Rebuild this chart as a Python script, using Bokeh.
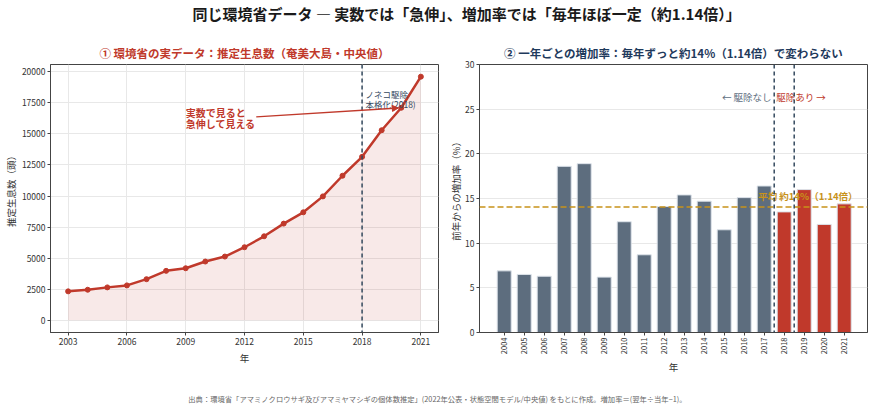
from math import pi
from bokeh.plotting import figure
from bokeh.layouts import column, row
from bokeh.models import ColumnDataSource, Span, Arrow, NormalHead, FixedTicker, Range1d
from bokeh.embed import file_html
from bokeh.resources import INLINE
from bokeh.core.properties import value

FONT = "Noto Sans CJK JP"
RED = "#c0392b"
NAVY = "#34495e"
GRAYBAR = "#5d6d7e"
GOLD = "#c8921a"
TITLE_NAVY = "#1f3a5c"

# ---------------- data ----------------
years = list(range(2003, 2022))
population = [2330, 2460, 2650, 2810, 3310, 3980, 4190, 4730, 5130, 5880,
              6760, 7780, 8690, 9970, 11630, 13150, 15290, 17100, 19600]
rate_years = list(range(2004, 2022))
growth_rate = [6.9, 6.5, 6.3, 18.6, 18.9, 6.2, 12.4, 8.7, 14.1, 15.4,
               14.7, 11.5, 15.1, 16.4, 13.5, 16.0, 12.1, 14.4]
average_rate = 14.05
cull_start_year = 2018
left_xticks = [2003, 2006, 2009, 2012, 2015, 2018, 2021]
left_yticks = [0, 2500, 5000, 7500, 10000, 12500, 15000, 17500, 20000]
right_yticks = [0, 5, 10, 15, 20, 25, 30]

main_title = "同じ環境省データ ― 実数では「急伸」、増加率では「毎年ほぼ一定（約1.14倍）」"
left_title = "① 環境省の実データ：推定生息数（奄美大島・中央値）"
right_title = "② 一年ごとの増加率：毎年ずっと約14%（1.14倍）で変わらない"
left_ylabel = "推定生息数（頭）"
right_ylabel = "前年からの増加率（%）"
footer = "出典：環境省「アマミノクロウサギ及びアマミヤマシギの個体数推定」(2022年公表・状態空間モデル/中央値) をもとに作成。増加率＝(翌年÷当年−1)。"

ROW_H = 349
BORDER_TOP = 28
BORDER_BOTTOM = 53
FRAME_H = ROW_H - BORDER_TOP - BORDER_BOTTOM


def style_axes(p):
    for ax in p.axis:
        ax.axis_line_color = "#444444"
        ax.major_tick_line_color = "#444444"
        ax.major_tick_out = 3
        ax.major_tick_in = 0
        ax.minor_tick_line_color = None
        ax.major_label_text_font = FONT
        ax.major_label_text_font_size = "8.5px"
        ax.major_label_text_color = "#333333"
        ax.major_label_standoff = 2
        ax.axis_label_text_font = FONT
        ax.axis_label_text_font_size = "9.5px"
        ax.axis_label_text_font_style = "normal"
        ax.axis_label_text_color = "#333333"
        ax.axis_label_standoff = 3
    p.outline_line_color = "#444444"
    p.outline_line_width = 1
    p.grid.grid_line_color = "#e8e8e8"
    p.title.align = "center"
    p.title.text_font = FONT
    p.title.text_font_size = "11.5px"
    p.title.text_font_style = "bold"
    p.title.standoff = 8


def label_fig(width, text, x):
    f = figure(width=width, height=ROW_H, x_range=Range1d(0, width),
               y_range=Range1d(0, ROW_H), output_backend="svg",
               toolbar_location=None, min_border=0)
    f.axis.visible = False
    f.grid.visible = False
    f.outline_line_color = None
    f.text(x=[x], y=[BORDER_BOTTOM + FRAME_H / 2], text=[text], angle=pi / 2,
           text_font=value(FONT), text_font_size="9.5px", text_color="#333333",
           text_align="center", text_baseline="middle")
    return f


# ---------------- left: population ----------------
p1 = figure(width=426, height=ROW_H, x_range=Range1d(2002.1, 2021.9),
            y_range=Range1d(-980, 20580), output_backend="svg",
            toolbar_location=None, title=left_title,
            min_border_left=32, min_border_right=6, min_border_top=BORDER_TOP,
            min_border_bottom=BORDER_BOTTOM, x_axis_label="年")
style_axes(p1)
p1.title.text_color = RED
p1.xaxis.ticker = FixedTicker(ticks=left_xticks)
p1.yaxis.ticker = FixedTicker(ticks=left_yticks)

p1.varea(x=years, y1=[0] * len(years), y2=population, fill_color=RED, fill_alpha=0.11)
p1.line(years, population, line_color=RED, line_width=2.5)
p1.scatter(years, population, size=5, color=RED)
p1.add_layout(Span(location=cull_start_year, dimension="height", line_color=NAVY,
                   line_dash="4 3", line_width=1.5))

p1.text(x=[2009.0, 2009.0], y=[16700, 15830], text=["実数で見ると", "急伸して見える"],
        text_font=value(FONT), text_font_size="10px", text_font_style="bold",
        text_color=RED, text_baseline="middle", text_align="left")
p1.add_layout(Arrow(end=NormalHead(size=6, fill_color=RED, line_color=RED),
                    x_start=2012.6, y_start=16360, x_end=2019.85, y_end=17080,
                    line_color=RED, line_width=1.3))
p1.text(x=[cull_start_year + 0.18, cull_start_year + 0.18], y=[18180, 17380],
        text=["ノネコ駆除", "本格化(2018)"],
        text_font=value(FONT), text_font_size="8.5px",
        text_color=NAVY, text_baseline="middle", text_align="left")

# ---------------- right: growth rate ----------------
bar_colors = [GRAYBAR if y < cull_start_year else RED for y in rate_years]
src = ColumnDataSource(dict(x=rate_years, top=growth_rate, color=bar_colors))

p2 = figure(width=413, height=ROW_H, x_range=Range1d(2002.765, 2022.165),
            y_range=Range1d(0, 30), output_backend="svg",
            toolbar_location=None, title=right_title,
            min_border_left=17, min_border_right=8, min_border_top=BORDER_TOP,
            min_border_bottom=BORDER_BOTTOM, x_axis_label="年")
style_axes(p2)
p2.title.text_color = TITLE_NAVY
p2.xgrid.visible = False
p2.xaxis.ticker = FixedTicker(ticks=rate_years)
p2.yaxis.ticker = FixedTicker(ticks=right_yticks)
p2.xaxis.major_label_orientation = pi / 2
p2.xaxis.major_label_text_font_size = "7.5px"

p2.vbar(x="x", top="top", width=0.7, source=src, fill_color="color",
        line_color="#dde3ea", line_width=1)
p2.add_layout(Span(location=average_rate, dimension="width", line_color=GOLD,
                   line_dash="6 3", line_width=1.5))
for loc in (cull_start_year - 0.5, cull_start_year + 0.5):
    p2.add_layout(Span(location=loc, dimension="height", line_color=NAVY,
                       line_dash="4 3", line_width=1.5))

p2.text(x=[cull_start_year - 0.63], y=[26.4], text=["← 駆除なし"],
        text_font=value(FONT), text_font_size="9.5px", text_color=GRAYBAR,
        text_baseline="middle", text_align="right")
p2.text(x=[cull_start_year - 0.4], y=[26.4], text=["駆除あり →"],
        text_font=value(FONT), text_font_size="9.5px", text_color=RED,
        text_baseline="middle", text_align="left")
p2.text(x=[2016.7], y=[15.3], text=["平均 約14%（1.14倍）"],
        text_font=value(FONT), text_font_size="9.5px", text_font_style="bold",
        text_color=GOLD, text_baseline="middle", text_align="left")


def blank(width, height):
    f = figure(width=width, height=height, x_range=Range1d(0, width),
               y_range=Range1d(height, 0), output_backend="svg",
               toolbar_location=None, min_border=0)
    f.axis.visible = False
    f.grid.visible = False
    f.outline_line_color = None
    return f


tfig = blank(875, 36)
tfig.text(x=[192], y=[13], text=[main_title], text_font=value(FONT),
          text_font_size="15px", text_font_style="bold", text_color="#1a1a1a",
          text_baseline="middle", text_align="left")

ffig = blank(875, 24)
ffig.text(x=[437], y=[13], text=[footer], text_font=value(FONT),
          text_font_size="7.3px", text_color="#666666",
          text_baseline="middle", text_align="center")

lab1 = label_fig(18, left_ylabel, 10)
lab2 = label_fig(18, right_ylabel, 11)

layout = column(tfig, row(lab1, p1, lab2, p2, spacing=0), ffig, spacing=0)
open("out.html", "w").write(file_html(layout, INLINE))
